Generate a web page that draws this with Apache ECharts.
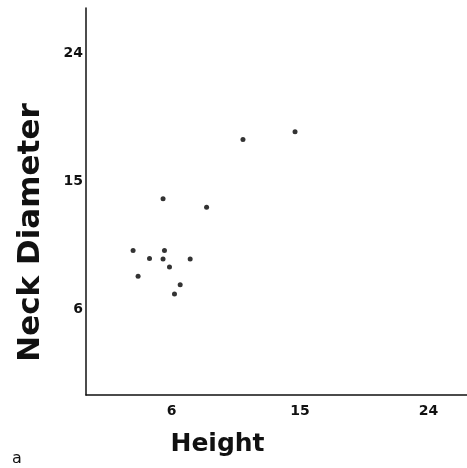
<!DOCTYPE html>
<html>
<head>
<meta charset="UTF-8">
<title>Neck Diameter vs Height</title>
<script src="https://cdn.jsdelivr.net/npm/echarts@6/dist/echarts.min.js"></script>
<style>
  * { margin: 0; padding: 0; }
  body { background: #fff; }
  #chart { width: 467px; height: 468px; }
</style>
</head>
<body>
<div id="chart"></div>
<script>
// values
const heights       = [5.4, 8.45, 3.3, 5.5, 4.45, 5.4, 7.3, 5.85, 3.65, 6.6, 6.2, 11.0, 14.65];
const neckDiameters = [13.8, 13.2, 10.15, 10.15, 9.6, 9.55, 9.55, 9.0, 8.35, 7.75, 7.1, 17.95, 18.5];
const xTicks = [6, 15, 24];
const yTicks = [6, 15, 24];

const points = heights.map((h, i) => [h, neckDiameters[i]]);

const chart = echarts.init(document.getElementById('chart'));

const tickLabel = { fontFamily: 'DejaVu Sans', fontWeight: 'bold', fontSize: 14, color: '#111' };

chart.setOption({
  animation: false,
  title: {
    text: 'a', left: 7, top: 446,
    textStyle: { fontFamily: 'DejaVu Sans', fontWeight: 'normal', fontSize: 16, color: '#111' }
  },
  grid: { left: 86, right: 0, top: 8, bottom: 73 },
  xAxis: {
    type: 'value', min: 0, max: 26.7,
    splitLine: { show: false },
    axisTick: { show: false },
    axisLine: { lineStyle: { color: '#111', width: 1.5 } },
    axisLabel: Object.assign({ customValues: xTicks, margin: 9 }, tickLabel),
    name: 'Height', nameLocation: 'middle', nameGap: 37,
    nameTextStyle: { fontFamily: 'DejaVu Sans', fontWeight: 'bold', fontSize: 25, color: '#111', padding: [0, 118, 0, 0] }
  },
  yAxis: {
    type: 'value', min: 0, max: 27.2,
    splitLine: { show: false },
    axisTick: { show: false },
    axisLine: { lineStyle: { color: '#111', width: 1.5 } },
    axisLabel: Object.assign({ customValues: yTicks, margin: 3 }, tickLabel),
    name: 'Neck Diameter', nameLocation: 'middle', nameGap: 40,
    nameTextStyle: { fontFamily: 'DejaVu Sans', fontWeight: 'bold', fontSize: 31, color: '#111', padding: [0, 62, 0, 0] }
  },
  series: [{
    type: 'scatter',
    data: points,
    symbolSize: 5,
    itemStyle: { color: '#000' }
  }]
});
</script>
</body>
</html>
